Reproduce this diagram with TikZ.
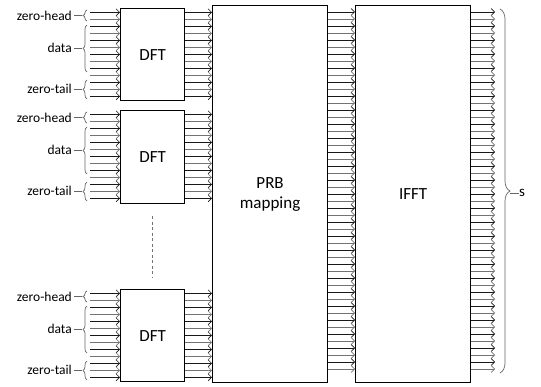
\documentclass[tikz,border=0pt]{standalone}
\usepackage{fontspec}
\setmainfont{Carlito}
\usetikzlibrary{arrows.meta,decorations.pathreplacing}
\tikzset{
  blk/.style={draw, line width=1.2pt, inner sep=0pt, anchor=north west,
    align=center, font=\fontsize{17}{20}\selectfont},
  sig/.style={line width=0.6pt, -{Straight Barb[length=3.5pt,width=7pt]}},
  grp/.style={draw=black!60, line width=0.7pt, decorate,
    decoration={brace, amplitude=4pt}},
  lbl/.style={anchor=east, inner sep=0pt, font=\fontsize{13.5}{16}\selectfont},
}
\begin{document}
\begin{tikzpicture}[x=1pt, y=-1pt]
  \useasboundingbox (0,0) rectangle (541,387);
  % blocks
  \node[blk, minimum width=64pt, minimum height=92pt] (dft1) at (120,8) {DFT};
  \node[blk, minimum width=64pt, minimum height=93pt] (dft2) at (120,110) {DFT};
  \node[blk, minimum width=64pt, minimum height=92pt] (dft3) at (120,289) {DFT};
  \node[blk, minimum width=115pt, minimum height=377pt] (prb) at (212,5) {PRB\\mapping};
  \node[blk, minimum width=115pt, minimum height=377pt] (ifft) at (355,5) {IFFT};
  \draw[black!55, line width=1.3pt, dash pattern=on 3pt off 2.5pt]
    ([yshift=-12pt]dft2.south) -- ([yshift=11pt]dft3.north);
  % inputs, groups and DFT outputs
  \foreach \d/\t in {1/8,2/110,3/289} {
    \foreach \k in {0,...,12} {
      \pgfmathsetmacro\yy{\t+4.3+7*\k}
      \pgfmathsetmacro\shade{mod(\k,2)==0 ? 90 : 55}
      \coordinate (in\d-\k) at (90,\yy);
      \draw[sig, draw=black!\shade] (in\d-\k) -- (dft\d.west |- 0,\yy);
      \draw[sig, draw=black!\shade] (dft\d.east |- 0,\yy) -- (prb.west |- 0,\yy);
    }
    \node[lbl] (head\d) at (72,\t+7.5) {zero-head};
    \node[lbl] (data\d) at (72,\t+40) {data};
    \node[lbl] (tail\d) at (72,\t+81) {zero-tail};
    \draw[grp] (87,\t+13) -- (87,\t+2);
    \draw[grp] (87,\t+64) -- (87,\t+17);
    \draw[grp] (87,\t+91) -- (87,\t+72);
    \draw[black!60, line width=0.7pt] (head\d.east) ++(2,0) -- ++(8,0);
    \draw[black!60, line width=0.7pt] (data\d.east) ++(2,0) -- ++(8,0);
    \draw[black!60, line width=0.7pt] (tail\d.east) ++(2,0) -- ++(8,0);
  }
  % PRB and IFFT outputs
  \foreach \k in {0,...,51} {
    \pgfmathsetmacro\yy{12+7*\k}
    \pgfmathsetmacro\shade{mod(\k,2)==0 ? 90 : 55}
    \coordinate (out\k) at (495,\yy);
    \draw[sig, draw=black!\shade] (prb.east |- 0,\yy) -- (ifft.west |- 0,\yy);
    \draw[sig, draw=black!\shade] (ifft.east |- 0,\yy) -- (out\k);
  }
  \draw[grp, decoration={brace, amplitude=10pt}] (500,9) -- (500,373);
  \node[anchor=west, inner sep=0pt, font=\fontsize{15}{18}\selectfont] (s) at (519,193) {s};
  \draw[black!60, line width=0.7pt] (s.west) -- ++(-9,0);
\end{tikzpicture}
\end{document}
